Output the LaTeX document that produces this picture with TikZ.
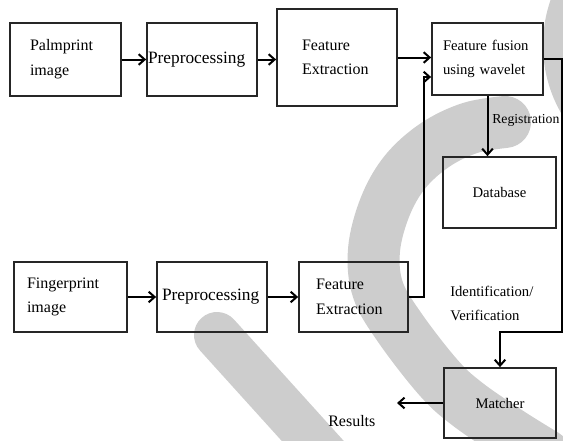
\documentclass[tikz,border=0pt]{standalone}
\usepackage{fontspec}
\setmainfont{Liberation Serif}
\usetikzlibrary{arrows.meta,calc,positioning}
\definecolor{wmgray}{RGB}{205,205,205}
\newcommand{\fsz}[1]{\fontsize{#1}{18.5}\selectfont}
\tikzset{
  box/.style={draw=black!85, line width=1.3pt, inner ysep=0pt, align=left},
  cbox/.style={draw=black!85, line width=1.3pt, inner sep=0pt, align=center},
  arr/.style={line width=1.5pt, -{Straight Barb[length=4.5pt,width=8pt]}},
  lbl/.style={inner sep=0pt, font=\fsz{11}}
}

\begin{document}
\begin{tikzpicture}[x=0.75pt,y=-0.75pt]
                \useasboundingbox (0,0) rectangle (563,440);
                \clip (0,0) rectangle (563,440);
                \fill[wmgray] (680,45) circle[radius=102.75pt];
                \draw[wmgray, line width=39pt, line cap=round] plot[smooth, tension=0.6] coordinates {(505,122) (470,128) (435,145) (405,172) (385,207) (374,250) (378,290) (400,328) (438,377) (466,403) (508,432) (545,455)};
                \draw[wmgray, line width=34.5pt, line cap=round] (217,335) -- (330,460);
                \node[box, text width=53.25pt, inner xsep=15pt, minimum height=54.75pt, font=\fsz{12}] (palm) at (65.5,59.5) {Palmprint\\image};
                \node[box, text width=81pt, inner xsep=0.75pt, minimum height=54.75pt, font=\fsz{13}] (pre1) at (202,59.5) {Preprocessing};
                \node[box, text width=52.5pt, inner xsep=18.75pt, minimum height=72.75pt, font=\fsz{12}] (fe1) at (337,57.5) {Feature\\Extraction};
                \node[box, text width=66.75pt, inner xsep=8.25pt, minimum height=54pt, font=\fsz{11}] (fus) at (487.5,59) {Feature fusion\\using wavelet};
                \node[cbox, minimum width=84.75pt, minimum height=53.25pt, font=\fsz{11}] (db) at (499.5,192.5) {Database};
                \node[box, text width=65.25pt, inner xsep=9.75pt, minimum height=52.5pt, font=\fsz{12}] (fp) at (70.5,297) {Fingerprint\\image};
                \node[box, text width=75pt, inner xsep=3.75pt, minimum height=52.5pt, font=\fsz{13}] (pre2) at (212,297) {Preprocessing};
                \node[box, text width=56.25pt, inner xsep=12.75pt, minimum height=52.5pt, font=\fsz{12}] (fe2) at (353.5,297) {Feature\\Extraction};
                \node[cbox, minimum width=84pt, minimum height=52.5pt, font=\fsz{11}] (mat) at (500,403) {Matcher};
                \node[lbl, anchor=west, font=\fsz{10.3}] (reg) at (492,120) {Registration};
                \node[lbl, anchor=west, align=left] (idv) at (450,303.5) {Identification/\\Verification};
                \node[lbl, anchor=west, font=\fsz{12}] (res) at (328,421) {Results};
                \coordinate (fusin) at ([yshift=-13.5pt]fus.west);
                \coordinate (turn) at (561.5,332);
                \coordinate (resout) at (397,403);
                \draw[arr] (palm) -- (pre1);
                \draw[arr] (pre1.east) -- (pre1.east -| fe1.west);
                \draw[arr] (fe1.east) -- (fe1.east -| fus.west);
                \draw[arr] (fe2.east) -- ++(15,0) |- (fusin);
                \draw[arr] (fus.south) -- (fus.south |- db.north);
                \draw[arr] (fus.east) -| (turn) -| (mat.north);
                \draw[arr] (fp) -- (pre2);
                \draw[arr] (pre2) -- (fe2);
                \draw[arr] (mat.west) -- (resout);
            \end{tikzpicture}
\end{document}
